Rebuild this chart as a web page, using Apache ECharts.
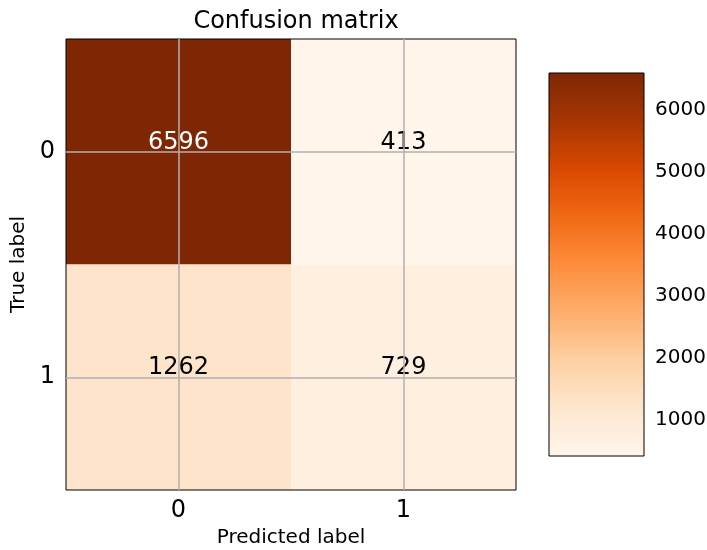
<!DOCTYPE html>
<html><head><meta charset="utf-8">
<script src="https://cdn.jsdelivr.net/npm/echarts@6/dist/echarts.min.js"></script>
<style>html,body{margin:0;padding:0;background:#fff}#c{width:707px;height:550px}</style>
</head><body><div id="c"></div>
<script>
const chartTitle = 'Confusion matrix';
const predictedLabels = ['0', '1'];
const trueLabels = ['0', '1'];
const matrixRow0 = [6596, 413];
const matrixRow1 = [1262, 729];
const colorbarTicks = [1000, 2000, 3000, 4000, 5000, 6000];
const orangesStops = ['#fff5eb','#fee6ce','#fdd0a2','#fdae6b','#fd8d3c','#f16913','#d94801','#a63603','#7f2704'];

const rows = [matrixRow0, matrixRow1];
const cells = [];
rows.forEach((r, i) => r.forEach((v, j) => cells.push([j, i, v])));
const allVals = cells.map(c => c[2]);
const vmin = Math.min(...allVals), vmax = Math.max(...allVals);
const thresh = vmax / 2;
const FONT = 'DejaVu Sans';
const tickIdx = predictedLabels.map((_, i) => i);

const chart = echarts.init(document.getElementById('c'), null, {renderer: 'canvas'});
chart.setOption({
  animation: false,
  backgroundColor: '#fff',
  textStyle: {fontFamily: FONT},
  title: {
    text: chartTitle, left: 291, top: 5, textAlign: 'center',
    textStyle: {fontFamily: FONT, fontSize: 24, fontWeight: 'normal', color: '#000'}
  },
  grid: [
    {left: 66, top: 39, width: 450, height: 451, show: true, borderColor: '#000', borderWidth: 1,
     backgroundColor: 'transparent', z: 5, containLabel: false, outerBoundsMode: 'none'},
    {left: 549, top: 73, width: 95, height: 383, show: true, borderColor: '#000', borderWidth: 1,
     backgroundColor: 'transparent', z: 5, containLabel: false, outerBoundsMode: 'none'}
  ],
  xAxis: [
    {gridIndex: 0, type: 'value', min: -0.5, max: 1.5,
     axisLine: {show: false}, splitLine: {show: false},
     axisTick: {show: true, customValues: tickIdx, length: 6, lineStyle: {color: '#000', width: 1}},
     axisLabel: {customValues: tickIdx, formatter: v => predictedLabels[Math.round(v)], fontSize: 24, color: '#000', margin: 9, fontFamily: FONT},
     name: 'Predicted label', nameLocation: 'middle', nameGap: 38,
     nameTextStyle: {fontSize: 20, color: '#000', fontFamily: FONT}},
    {gridIndex: 1, type: 'value', min: 0, max: 1, show: false}
  ],
  yAxis: [
    {gridIndex: 0, type: 'value', min: -0.5, max: 1.5, inverse: true,
     axisLine: {show: false}, splitLine: {show: false},
     axisTick: {show: true, customValues: tickIdx, length: 6, lineStyle: {color: '#000', width: 1}},
     axisLabel: {customValues: tickIdx, formatter: v => trueLabels[Math.round(v)], fontSize: 24, color: '#000', margin: 11, fontFamily: FONT},
     name: 'True label', nameLocation: 'middle', nameGap: 31, nameRotate: 90,
     nameTextStyle: {fontSize: 20, color: '#000', fontFamily: FONT}},
    {gridIndex: 1, type: 'value', min: vmin, max: vmax, position: 'right',
     axisLine: {show: false}, splitLine: {show: false},
     axisTick: {show: true, customValues: colorbarTicks, length: 6, lineStyle: {color: '#000', width: 1}},
     axisLabel: {customValues: colorbarTicks, formatter: v => String(Math.round(v)), fontSize: 20, color: '#000', margin: 11, fontFamily: FONT}}
  ],
  visualMap: {
    type: 'continuous', show: false, min: vmin, max: vmax, dimension: 2, seriesIndex: 0,
    inRange: {color: orangesStops}
  },
  series: [
    {
      type: 'custom', xAxisIndex: 0, yAxisIndex: 0, z: 2,
      data: cells,
      encode: {x: 0, y: 1},
      renderItem: function (params, api) {
        const x = api.value(0), y = api.value(1);
        const p1 = api.coord([x - 0.5, y - 0.5]);
        const p2 = api.coord([x + 0.5, y + 0.5]);
        return {
          type: 'rect',
          shape: {x: Math.min(p1[0], p2[0]), y: Math.min(p1[1], p2[1]),
                  width: Math.abs(p2[0] - p1[0]), height: Math.abs(p2[1] - p1[1])},
          style: {fill: api.visual('color')}
        };
      },
      markLine: {
        silent: true, symbol: 'none', animation: false,
        label: {show: false},
        lineStyle: {color: '#b0b0b0', width: 1.5, type: 'solid'},
        data: tickIdx.map(i => ({xAxis: i})).concat(tickIdx.map(i => ({yAxis: i})))
      }
    },
    {
      type: 'custom', xAxisIndex: 0, yAxisIndex: 0, z: 4,
      data: cells,
      encode: {x: 0, y: 1},
      renderItem: function (params, api) {
        const v = api.value(2);
        const p = api.coord([api.value(0), api.value(1)]);
        return {
          type: 'text', x: p[0], y: p[1] - 9,
          style: {text: String(v), fill: v > thresh ? '#fff' : '#000',
                  font: '24px "DejaVu Sans"', align: 'center', verticalAlign: 'middle'}
        };
      }
    },
    {
      type: 'custom', xAxisIndex: 1, yAxisIndex: 1, z: 2,
      data: [[0, 1, vmin, vmax]],
      encode: {x: [0, 1], y: [2, 3]},
      renderItem: function (params, api) {
        const p1 = api.coord([api.value(0), api.value(3)]);
        const p2 = api.coord([api.value(1), api.value(2)]);
        return {
          type: 'rect',
          shape: {x: p1[0], y: p1[1], width: p2[0] - p1[0], height: p2[1] - p1[1]},
          style: {fill: {type: 'linear', x: 0, y: 1, x2: 0, y2: 0,
            colorStops: orangesStops.map((c, i) => ({offset: i / (orangesStops.length - 1), color: c}))}}
        };
      }
    }
  ]
});
</script></body></html>
